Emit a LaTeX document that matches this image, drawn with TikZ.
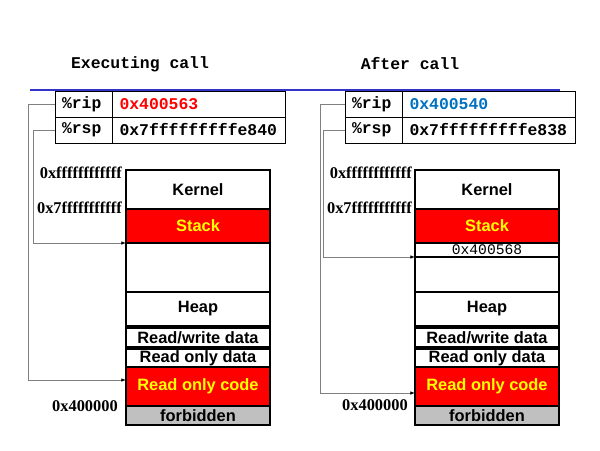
\documentclass[tikz,border=0pt]{standalone}
\usepackage{fontspec}
\setmainfont{Liberation Serif}
\newfontfamily\arialfont{Liberation Sans}
\newfontfamily\courfont{Liberation Mono}
\usetikzlibrary{arrows.meta, positioning}

\definecolor{memred}{RGB}{255,0,0}
\definecolor{memyellow}{RGB}{255,255,0}
\definecolor{memgray}{RGB}{192,192,192}
\definecolor{ruleblue}{RGB}{51,51,204}
\definecolor{ripblue}{RGB}{0,112,192}

\begin{document}
\begin{tikzpicture}[
    x=0.03cm, y=-0.03cm,
    node distance=0pt,
    title/.style={font=\courfont\bfseries\fontsize{14}{16}\selectfont},
    regname/.style={draw, line width=0.8pt, minimum height=0.78cm, text width=1.29cm,
        inner xsep=0.21cm, inner ysep=0pt, outer sep=0pt, align=left,
        font=\courfont\bfseries\fontsize{14}{16}\selectfont},
    regval/.style={regname, text width=4.74cm, inner xsep=0.225cm},
    seg/.style={draw, line width=1.3pt, minimum width=4.32cm, inner sep=0pt, outer sep=0pt,
        fill=white, font=\arialfont\bfseries\fontsize{14}{16}\selectfont},
    hot/.style={seg, fill=memred, text=memyellow},
    retaddr/.style={seg, font=\courfont\fontsize{12.5}{14}\selectfont},
    addr/.style={anchor=east, inner sep=0pt, font=\bfseries\fontsize{14}{16}\selectfont},
    link/.style={draw=gray, line width=0.7pt, -{Latex[black, length=4pt, width=3pt]}}
]
\useasboundingbox (0,0) rectangle (600,450);

%-------------------------------------------------
% Titles
%-------------------------------------------------
\node[title] (execT)  at (140,64) {Executing call};
\node[title] (afterT) at (410,64) {After call};

\draw[ruleblue, line width=1.8pt] (30,90) -- (560,90);

%-------------------------------------------------
% Registers
%-------------------------------------------------
\node[regname, anchor=north west] (ripL) at (55,91) {\%rip};
\node[regval, right=of ripL, text=memred] (ripvalL) {0x400563};
\node[regname, below=of ripL] (rspL) {\%rsp};
\node[regval, right=of rspL] (rspvalL) {0x7fffffffffe840};

\node[regname, anchor=north west] (ripR) at (345,91) {\%rip};
\node[regval, right=of ripR, text=ripblue] (ripvalR) {0x400540};
\node[regname, below=of ripR] (rspR) {\%rsp};
\node[regval, right=of rspR] (rspvalR) {0x7fffffffffe838};

%-------------------------------------------------
% Memory, before the call
%-------------------------------------------------
\node[seg, minimum height=1.17cm, anchor=north west] (kernelL) at (126,170) {Kernel};
\node[hot, minimum height=1.02cm, below=of kernelL] (stackL) {Stack};
\node[seg, minimum height=1.47cm, below=of stackL] (gapL) {};
\node[seg, minimum height=1.02cm, below=of gapL] (heapL) {Heap};
\node[seg, minimum height=0.57cm, below=0.06cm of heapL] (rwL) {Read/write data};
\node[seg, minimum height=0.54cm, below=0.06cm of rwL] (roL) {Read only data};
\node[hot, minimum height=1.17cm, below=of roL] (codeL) {Read only code};
\node[seg, fill=memgray, minimum height=0.57cm, below=of codeL] (forbL) {forbidden};

\node[addr] (topL)      at (122,173) {0xffffffffffff};
\node[addr] (stacktopL) at (122,208) {0x7fffffffffff};
\node[addr] (baseL)     at (118,406) {0x400000};

%-------------------------------------------------
% Memory, after the call
%-------------------------------------------------
\node[seg, minimum height=1.17cm, anchor=north west] (kernelR) at (415,170) {Kernel};
\node[hot, minimum height=1.02cm, below=of kernelR] (stackR) {Stack};
\node[retaddr, minimum height=0.42cm, below=of stackR] (retR) {0x400568};
\node[seg, minimum height=1.05cm, below=of retR] (gapR) {};
\node[seg, minimum height=1.02cm, below=of gapR] (heapR) {Heap};
\node[seg, minimum height=0.57cm, below=0.06cm of heapR] (rwR) {Read/write data};
\node[seg, minimum height=0.54cm, below=0.06cm of rwR] (roR) {Read only data};
\node[hot, minimum height=1.17cm, below=of roR] (codeR) {Read only code};
\node[seg, fill=memgray, minimum height=0.57cm, below=of codeR] (forbR) {forbidden};

\node[addr] (topR)      at (412,173) {0xffffffffffff};
\node[addr] (stacktopR) at (412,208) {0x7fffffffffff};
\node[addr] (baseR)     at (408,405) {0x400000};

%-------------------------------------------------
% Register pointers
%-------------------------------------------------
\draw[link] (ripL.west) -- ++(-27,0) |- ([yshift=0.195cm]codeL.west);
\draw[link] (rspL.west) -- ++(-22,0) |- (stackL.south west);
\draw[link] (ripR.west) -- ++(-25,0) |- ([yshift=-0.195cm]codeR.west);
\draw[link] (rspR.west) -- ++(-22,0) |- (retR.south west);

\end{tikzpicture}
\end{document}
